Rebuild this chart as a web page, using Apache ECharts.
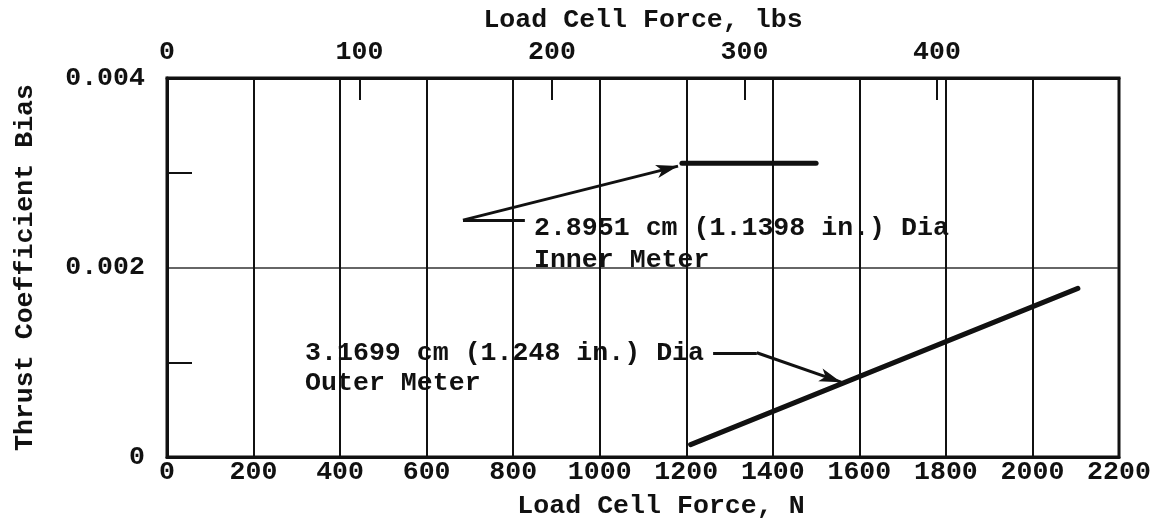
<!DOCTYPE html>
<html>
<head>
<meta charset="utf-8">
<script src="https://cdn.jsdelivr.net/npm/echarts@6/dist/echarts.min.js"></script>
<style>
  html, body { margin: 0; background: #fff; }
  #chart { width: 1168px; height: 526px; }
</style>
</head>
<body>
<div id="chart"></div>
<script>
// load in N on the bottom axis, lbs on the top one
const N_PER_LB = 4.448222;
const X_MAX_N = 2200;
const Y_MAX = 0.004;

// the two meter curves, [force N, thrust coefficient bias]
const innerMeter = [[1190, 0.0031], [1500, 0.0031]];
const outerMeter = [[1210, 0.00013], [2105, 0.00178]];

// callouts
const innerText = ["2.8951 cm (1.1398 in.) Dia", "Inner Meter"];
const innerTextAt = [848, 0.00225];
const innerDash = [[684, 0.0025], [827, 0.0025]];
const innerArrow = [[684, 0.0025], [1181, 0.00307]];

const outerText = ["3.1699 cm (1.248 in.) Dia", "Outer Meter"];
const outerTextAt = [319, 0.00094];
const outerDash = [[1262, 0.0011], [1363, 0.0011]];
const outerArrow = [[1363, 0.0011], [1558, 0.00079]];

const FONT = "Liberation Mono";
const INK = "#111";
const txt = { fontFamily: FONT, fontWeight: "bold", fontSize: 26.6, color: INK };

const chart = echarts.init(document.getElementById("chart"));

const seg = (pts, arrow) => [
  { coord: pts[0], symbol: "none" },
  { coord: pts[1], symbol: arrow ? "arrow" : "none" },
];

chart.setOption({
  animation: false,
  backgroundColor: "#fff",
  grid: {
    left: 167, right: 49, top: 78, bottom: 69,
    show: true, borderColor: INK, borderWidth: 3, backgroundColor: "transparent",
  },
  xAxis: [
    {
      type: "value",
      position: "bottom",
      min: 0,
      max: X_MAX_N,
      interval: 200,
      name: "Load Cell Force, N",
      nameLocation: "middle",
      nameGap: 36,
      nameTextStyle: { ...txt, padding: [0, 0, 0, 36] },
      axisLine: { show: true, lineStyle: { color: INK, width: 3 } },
      axisTick: { show: false },
      axisLabel: { ...txt, margin: 2, formatter: (v) => String(v) },
      splitLine: { show: true, lineStyle: { color: INK, width: 2 } },
    },
    {
      type: "value",
      position: "top",
      min: 0,
      max: X_MAX_N / N_PER_LB,
      interval: 100,
      name: "Load Cell Force, lbs",
      nameLocation: "middle",
      nameGap: 42,
      nameTextStyle: txt,
      axisLine: { show: true, lineStyle: { color: INK, width: 3 } },
      axisTick: { show: true, inside: true, length: 22, lineStyle: { color: INK, width: 2 } },
      axisLabel: { ...txt, margin: 12, showMaxLabel: false, formatter: (v) => String(v) },
      splitLine: { show: false },
    },
  ],
  yAxis: {
    type: "value",
    min: 0,
    max: Y_MAX,
    interval: 0.002,
    name: "Thrust Coefficient Bias",
    nameLocation: "middle",
    nameGap: 128,
    nameTextStyle: txt,
    axisLine: { show: true, lineStyle: { color: INK, width: 3 } },
    axisTick: { show: false, inside: true },
    minorTick: { show: true, splitNumber: 2, length: 25, lineStyle: { color: INK, width: 2 } },
    axisLabel: { ...txt, margin: 22, formatter: (v) => (v === 0 ? "0" : v.toFixed(3)) },
    splitLine: { show: true, lineStyle: { color: "#333", width: 1.5 } },
  },
  series: [
    {
      name: "inner",
      type: "line",
      data: innerMeter,
      showSymbol: false,
      lineStyle: { color: INK, width: 5, cap: "round" },
    },
    {
      name: "outer",
      type: "line",
      data: outerMeter,
      showSymbol: false,
      lineStyle: { color: INK, width: 5, cap: "round" },
      markLine: {
        silent: true,
        symbolSize: [10, 22],
        label: { show: false },
        lineStyle: { color: INK, width: 3, type: "solid" },
        data: [
          seg(innerDash, false),
          seg(innerArrow, true),
          seg(outerDash, false),
          seg(outerArrow, true),
        ],
      },
      markPoint: {
        silent: true,
        symbol: "circle",
        symbolSize: 0,
        label: { show: true, position: "right", distance: 0, ...txt, lineHeight: 32 },
        data: [
          { coord: innerTextAt, value: 0, label: { formatter: innerText.join("\n") } },
          { coord: outerTextAt, value: 0, label: { formatter: outerText.join("\n"), lineHeight: 30 } },
        ],
      },
    },
  ],
});
</script>
</body>
</html>
